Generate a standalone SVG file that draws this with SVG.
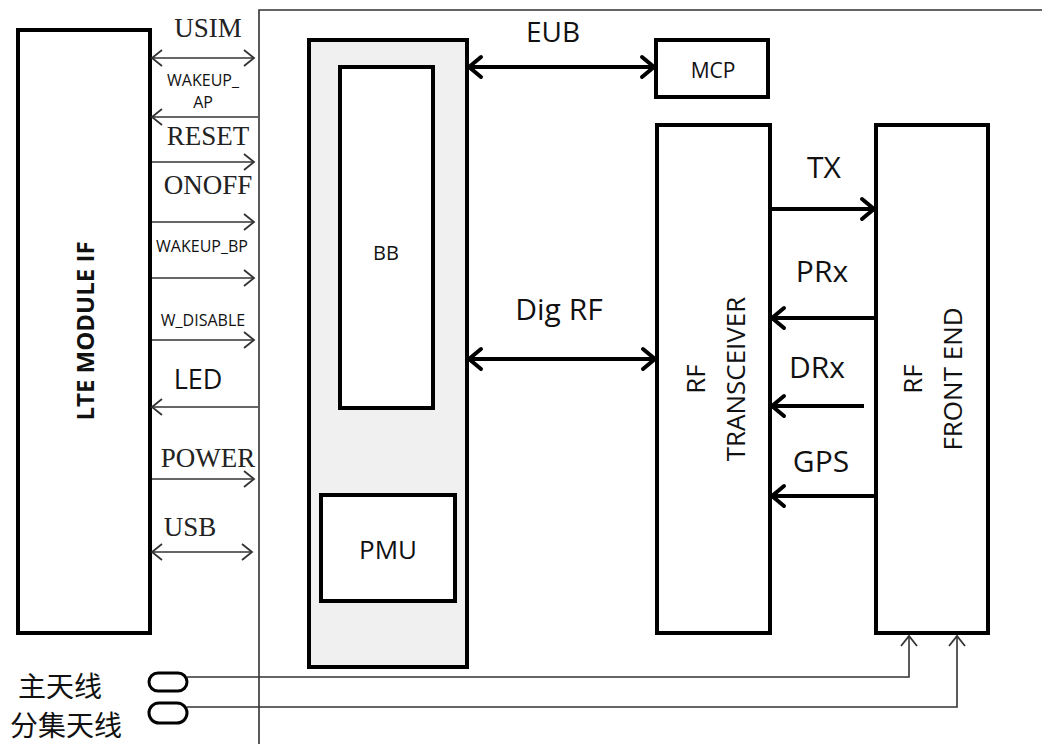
<svg xmlns="http://www.w3.org/2000/svg" width="1042" height="744" viewBox="0 0 1042 744">
  <defs>
    <style>
      .box { fill: #ffffff; stroke: #000; stroke-width: 4; }
      .grey { fill: #f0f0f0; stroke: #000; stroke-width: 4; }
      .frame { fill: none; stroke: #333; stroke-width: 1.6; }
      .thin { fill: none; stroke: #333; stroke-width: 1.6; }
      .thick { fill: none; stroke: #000; stroke-width: 4; }
      .sans { font-family: "Open Sans", "Noto Sans", sans-serif; fill: #111; }
      .serif { font-family: "Liberation Serif", serif; fill: #222; font-size: 27px; }
      .small { font-family: "Open Sans", "Noto Sans", sans-serif; fill: #111; font-size: 16px; }
      .big { font-size: 26px; }
      .lbl { font-size: 30px; }
      .cjk { font-family: "Noto Sans CJK SC", sans-serif; fill: #111; font-size: 28px; }
    </style>
    <marker id="ta" markerUnits="userSpaceOnUse" markerWidth="16" markerHeight="22" refX="13" refY="11" orient="auto-start-reverse">
      <path d="M3,3 L13,11 L3,19" fill="none" stroke="#333" stroke-width="1.8"/>
    </marker>
    <marker id="ka" markerUnits="userSpaceOnUse" markerWidth="18" markerHeight="26" refX="15" refY="13" orient="auto-start-reverse">
      <path d="M3,3 L15,13 L3,23" fill="none" stroke="#000" stroke-width="4" stroke-linecap="round" stroke-linejoin="round"/>
    </marker>
  </defs>

  <!-- frame -->
  <path class="frame" d="M259,744 V10 H1042"/>

  <g id="lte-module-if">
    <rect class="box" x="18" y="30" width="132" height="603"/>
    <text class="sans" font-size="24" font-weight="bold" text-anchor="middle" transform="translate(94,331) rotate(-90)">LTE MODULE IF</text>
  </g>

  <g id="bb-block">
    <rect class="grey" x="309" y="40" width="158" height="627"/>
  </g>
  <g id="bb">
    <rect class="box" x="340" y="67" width="93" height="341"/>
    <text class="sans" font-size="20" text-anchor="middle" x="386" y="260">BB</text>
  </g>
  <g id="pmu">
    <rect class="box" x="321" y="495" width="134" height="106"/>
    <text class="sans" font-size="26" text-anchor="middle" x="388" y="559">PMU</text>
  </g>
  <g id="mcp">
    <rect class="box" x="656" y="40" width="112" height="57"/>
    <text class="sans" font-size="21" text-anchor="middle" x="713" y="78">MCP</text>
  </g>
  <g id="rf-transceiver">
    <rect class="box" x="657" y="125" width="113" height="508"/>
    <text class="sans big" text-anchor="middle" transform="translate(705,379) rotate(-90)">RF</text>
    <text class="sans big" text-anchor="middle" transform="translate(745,379) rotate(-90)">TRANSCEIVER</text>
  </g>
  <g id="rf-front-end">
    <rect class="box" x="876" y="125" width="112" height="508"/>
    <text class="sans big" text-anchor="middle" transform="translate(922,379) rotate(-90)">RF</text>
    <text class="sans big" text-anchor="middle" transform="translate(962,379) rotate(-90)">FRONT END</text>
  </g>
  <g id="antennas">
    <rect x="149" y="673" width="38" height="18" rx="9" fill="#fff" stroke="#000" stroke-width="3"/>
    <rect x="149" y="703" width="38" height="20" rx="10" fill="#fff" stroke="#000" stroke-width="3"/>
    <text class="cjk" x="18" y="697">主天线</text>
    <text class="cjk" x="10" y="736">分集天线</text>
  </g>

  <g id="connectors">
    <!-- left interface -->
    <line class="thin" x1="152" y1="58" x2="254" y2="58" marker-start="url(#ta)" marker-end="url(#ta)"/>
    <line class="thin" x1="258" y1="117" x2="152" y2="117" marker-end="url(#ta)"/>
    <line class="thin" x1="152" y1="162" x2="254" y2="162" marker-end="url(#ta)"/>
    <line class="thin" x1="152" y1="222" x2="254" y2="222" marker-end="url(#ta)"/>
    <line class="thin" x1="152" y1="278" x2="254" y2="278" marker-end="url(#ta)"/>
    <line class="thin" x1="152" y1="340" x2="254" y2="340" marker-end="url(#ta)"/>
    <line class="thin" x1="258" y1="407" x2="152" y2="407" marker-end="url(#ta)"/>
    <line class="thin" x1="152" y1="479" x2="254" y2="479" marker-end="url(#ta)"/>
    <line class="thin" x1="152" y1="552" x2="252" y2="552" marker-start="url(#ta)" marker-end="url(#ta)"/>

    <!-- EUB / Dig RF -->
    <line class="thick" x1="469" y1="67" x2="654" y2="67" marker-start="url(#ka)" marker-end="url(#ka)"/>
    <line class="thick" x1="469" y1="359" x2="655" y2="359" marker-start="url(#ka)" marker-end="url(#ka)"/>

    <!-- RF paths -->
    <line class="thick" x1="772" y1="209" x2="874" y2="209" marker-end="url(#ka)"/>
    <line class="thick" x1="874" y1="318" x2="772" y2="318" marker-end="url(#ka)"/>
    <line class="thick" x1="864" y1="406" x2="772" y2="406" marker-end="url(#ka)"/>
    <line class="thick" x1="874" y1="496" x2="772" y2="496" marker-end="url(#ka)"/>

    <!-- antenna feeds -->
    <path class="thin" d="M187,677 H909 V636" marker-end="url(#ta)"/>
    <path class="thin" d="M187,707 H957 V636" marker-end="url(#ta)"/>
  </g>

  <g id="labels">
    <text class="serif" x="208" y="37" text-anchor="middle">USIM</text>
    <text class="small" x="203" y="86" text-anchor="middle">WAKEUP_</text>
    <text class="small" x="203" y="108" text-anchor="middle">AP</text>
    <text class="serif" x="208" y="145" text-anchor="middle">RESET</text>
    <text class="serif" x="208" y="194" text-anchor="middle">ONOFF</text>
    <text class="small" x="202" y="252" text-anchor="middle">WAKEUP_BP</text>
    <text class="small" x="203" y="326" text-anchor="middle">W_DISABLE</text>
    <text class="sans" font-size="27" x="198" y="389" text-anchor="middle">LED</text>
    <text class="serif" x="208" y="467" text-anchor="middle">POWER</text>
    <text class="serif" x="190" y="536" text-anchor="middle">USB</text>

    <text class="sans" font-size="28" x="553" y="42" text-anchor="middle">EUB</text>
    <text class="sans lbl" x="559" y="320" text-anchor="middle">Dig RF</text>
    <text class="sans lbl" x="824" y="178" text-anchor="middle">TX</text>
    <text class="sans lbl" x="822" y="282" text-anchor="middle">PRx</text>
    <text class="sans lbl" x="817" y="378" text-anchor="middle">DRx</text>
    <text class="sans lbl" x="821" y="472" text-anchor="middle">GPS</text>
  </g>
</svg>
